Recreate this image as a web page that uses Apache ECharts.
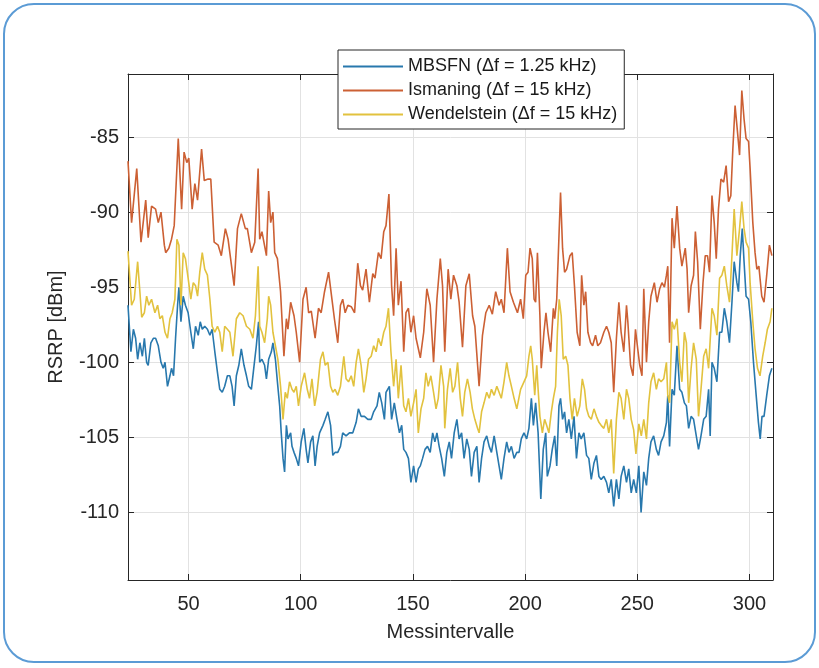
<!DOCTYPE html>
<html>
<head>
<meta charset="utf-8">
<script src="https://cdn.jsdelivr.net/npm/echarts@6/dist/echarts.min.js"></script>
<style>
  html, body { margin: 0; padding: 0; background: #fff; }
  #chart { width: 819px; height: 668px; }
</style>
</head>
<body>
<div id="chart"></div>
<script>
// Messintervall (x) and RSRP in dBm (y)
const ismaningX = [
  23, 24.6, 26.9, 28.8, 30.9, 32.0, 33.5, 35.3, 36.5, 37.7, 39.2, 39.8, 41.2, 42.4, 43.6, 45.4, 46.9, 48.0, 49.2, 50.1,
  51.6, 52.8, 54.0, 55.8, 57.0, 58.7, 59.9, 61.4, 63.2, 64.6, 66.4, 67.6, 70.3, 71.8, 73.5, 75.3, 76.2, 78.0, 79.5, 81.0,
  81.7, 82.7, 84.7, 85.7, 86.6, 87.6, 88.4, 89.6, 91.0, 92.5, 93.6, 94.3, 95.5, 97.0, 98.0, 99.5, 101.0, 102.4, 103.5, 104.7,
  106.4, 107.9, 109.1, 110.6, 112.4, 113.9, 115.0, 116.5, 117.7, 118.7, 119.8, 121.0, 122.5, 124.0, 125.4, 126.6, 127.6, 129.1, 130.6, 132.1,
  133.1, 134.6, 135.8, 137.0, 138.0,
  139.3, 140.5, 141.4, 142.5, 143.5, 144.7, 145.9, 146.9, 148.0, 149.1, 150.3, 151.4, 153.3, 154.8, 156.2, 157.7, 159.2, 160.7, 162.2, 163.2,
  164.2, 165.7, 166.9, 168.1, 169.6, 170.6, 172.1, 173.6, 175.1, 176.6, 177.6, 179.5, 181.0, 182.5, 184.0, 185.4, 186.9, 188.4, 189.4, 190.6,
  192.1, 193.3, 194.8,
  196.6, 198.0, 199.2, 200.3, 201.3, 202.2, 203.2, 204.0, 204.7, 205.5, 206.6, 207.2, 208.4, 209.3, 210.2, 211.4, 212.6, 213.2, 214.1, 215.1,
  215.8, 216.7, 217.6, 218.5, 220.0, 221.0, 222.0, 223.2, 224.4, 225.2, 226.2, 227.0, 228.0, 229.2, 230.1, 231.4, 232.4, 233.6, 235.1, 236.3,
  237.3, 238.4, 239.5, 240.7, 241.8, 242.8, 244.0, 245.2, 245.8, 247.0, 248.1, 249.2, 250.2, 251.1, 252.1, 252.9,
  254.1, 255.1, 256.1, 257.6, 258.8, 260.0, 261.0, 262.1, 263.0, 263.6, 264.4, 265.5, 266.5, 267.7, 268.9, 269.9, 271.4, 272.2, 272.9, 274.0,
  275.1, 275.9, 276.9, 278.1, 279.3, 280.3, 281.3, 282.2, 283.3, 284.3, 285.2, 286.2, 287.3, 288.5, 289.6, 290.7, 291.7, 292.6, 293.6, 294.7,
  295.6, 296.6, 297.6, 298.5, 299.6, 300.3, 301.5, 302.5, 303.3, 304.2, 305.5, 306.5, 307.7, 308.9, 310.0
];
const ismaningY = [
  -86.6, -90.7, -87.1, -92.0, -89.2, -91.7, -89.6, -89.8, -90.7, -90.0, -92.2, -92.7, -92.4, -91.8, -90.9, -85.1, -89.8, -86.0, -86.7, -86.4,
  -89.8, -88.1, -89.2, -85.8, -87.9, -87.8, -87.8, -92.0, -92.2, -92.9, -91.1, -91.8, -94.9, -91.1, -90.1, -91.1, -91.1, -92.7, -92.0, -87.1,
  -91.8, -91.3, -92.9, -88.6, -90.7, -90.0, -92.7, -93.1, -95.3, -99.6, -97.1, -97.8, -96.0, -96.9, -98.0, -100.0, -95.8, -95.0, -96.7, -96.6,
  -98.4, -96.4, -96.7, -95.3, -94.0, -95.8, -97.1, -98.7, -96.2, -95.8, -96.7, -96.2, -96.3, -96.7, -93.4, -94.9, -95.2, -93.8, -96.0, -94.1,
  -94.4, -92.7, -93.1, -91.3, -90.9,
  -88.8, -94.9, -96.9, -92.4, -96.2, -94.6, -99.3, -96.7, -96.4, -98.0, -96.9, -98.4, -99.7, -98.0, -95.1, -96.2, -100.0, -95.8, -93.1, -94.9,
  -99.3, -93.8, -95.8, -94.2, -94.9, -96.0, -99.0, -94.9, -94.1, -96.9, -97.6, -101.6, -98.2, -96.7, -96.2, -96.8, -95.3, -96.2, -95.8, -96.7,
  -92.4, -95.3, -96.0,
  -96.7, -95.8, -97.1, -94.2, -94.0, -92.4, -93.1, -95.8, -96.0, -92.7, -96.9, -100.4, -98.0, -96.7, -98.0, -99.3, -96.4, -97.1, -95.8, -91.6,
  -88.7, -92.4, -94.0, -93.8, -92.9, -92.7, -94.9, -98.0, -98.9, -94.2, -96.2, -95.3, -98.0, -98.7, -98.9, -98.2, -98.9, -98.7, -98.0, -97.6,
  -98.0, -98.7, -102.0, -98.4, -96.0, -98.0, -99.3, -96.2, -97.3, -100.2, -100.9, -97.8, -99.1, -100.2, -100.9, -95.1,
  -100.0, -97.3, -95.6, -94.7, -96.0, -95.1, -94.7, -95.0, -94.2, -93.6, -98.7, -90.4, -92.4, -89.6, -92.4, -93.6, -92.4, -93.8, -96.7, -94.9,
  -94.2, -91.3, -93.3, -97.8, -94.7, -92.9, -92.9, -94.0, -88.9, -90.7, -93.1, -89.8, -87.8, -88.0, -86.9, -89.3, -88.9, -85.8, -82.9, -84.7,
  -86.2, -81.9, -83.8, -85.1, -85.3, -87.1, -90.7, -92.7, -93.8, -93.6, -95.6, -96.0, -94.2, -92.2, -92.9
];

const wendelX = [
  23, 24.6, 25.8, 27.3, 28.3, 29.1, 30.3, 31.3, 32.3, 33.5, 35.0, 36.2, 37.2, 38.3, 39.5, 40.6, 41.7, 42.7, 43.9, 44.8,
  45.7, 46.6, 47.6, 48.6, 49.8, 51.0, 52.1, 53.1, 54.0, 55.0, 56.1, 57.2, 58.4, 59.5, 60.5, 61.7, 62.9, 63.9, 65.0, 66.1,
  67.3, 68.4, 69.8, 71.3, 72.8, 74.3, 75.8, 77.3, 78.7, 79.8, 81.0,
  81.7, 82.7, 83.9, 85.1, 85.7, 86.6, 87.6, 88.7, 89.8, 91.0, 92.1, 93.1, 94.0, 95.0, 96.1, 97.0, 98.0, 99.0, 100.2, 101.7,
  102.9, 103.9, 105.0, 106.2, 107.3, 108.8, 109.9, 110.9, 112.1, 113.3, 114.3, 115.3, 116.5, 117.7, 119.2, 120.2, 121.3, 122.5, 123.6, 124.7,
  125.7, 126.9, 128.1, 129.1, 130.2, 131.4, 132.5, 133.6, 134.6, 135.8, 137.0, 138.0,
  139.1, 140.2, 141.4, 142.5, 143.5, 144.7, 145.9, 146.9, 148.0, 149.1, 150.3, 151.4, 152.4, 153.6, 154.8, 155.8, 156.8, 158.0, 159.2, 160.3,
  161.3, 162.5, 163.7, 164.2, 165.4, 166.6, 167.7, 168.7, 169.9, 171.1, 172.1, 173.1, 174.3, 175.5, 176.5, 177.6, 178.8, 179.5, 180.6, 181.7,
  182.9, 184.0, 185.0, 186.2, 187.4, 188.4, 189.4, 190.6, 191.8, 192.8, 193.9, 195.1, 196.3,
  198.0, 199.5, 200.7, 201.7, 202.5, 203.2, 204.3, 205.2, 205.8, 206.6, 207.7, 208.7, 209.6, 210.6, 211.7, 212.6, 213.6, 214.4, 215.2, 216.1,
  217.0, 218.1, 219.1, 220.0, 221.0, 222.0, 223.2, 224.4, 225.5, 226.5, 227.4, 228.4, 229.5, 230.7, 231.8, 232.9, 233.9, 235.1, 236.3, 237.3,
  238.4, 239.5, 240.7, 241.8, 242.8, 244.0, 245.2, 246.2, 247.3, 248.4, 249.4, 250.7, 251.8, 252.9,
  254.1, 255.1, 256.1, 257.3, 258.5, 259.5, 260.6, 261.8, 263.0, 263.6, 264.4, 265.5, 266.5, 267.7, 268.9, 269.9, 271.0, 271.9, 272.9, 274.0,
  275.1, 276.3, 277.3, 278.4, 279.6, 280.7, 281.8, 283.3, 284.3, 285.5, 286.7, 287.7, 288.8, 289.9, 291.1, 292.2, 293.2, 294.4, 295.6, 296.6,
  297.6, 298.5, 299.6, 300.3, 301.5, 302.5, 303.6, 304.7, 305.9, 307.0, 308.0, 309.2, 310.0
];
const wendelY = [
  -92.6, -96.2, -95.8, -93.3, -95.3, -97.0, -96.7, -95.6, -96.2, -95.8, -96.7, -96.2, -97.1, -96.9, -98.0, -98.4, -97.1, -96.7, -95.8, -91.8,
  -92.2, -96.2, -92.7, -93.1, -94.4, -95.8, -94.7, -94.9, -95.6, -94.0, -92.7, -93.8, -94.2, -95.8, -97.6, -98.0, -97.6, -98.0, -99.3, -97.6,
  -97.8, -98.0, -99.6, -97.1, -96.7, -96.9, -97.6, -97.8, -98.4, -96.9, -93.6,
  -97.6, -98.0, -98.7, -97.1, -95.6, -96.2, -98.0, -98.9, -99.8, -101.6, -103.8, -102.0, -102.4, -101.3, -101.8, -102.0, -101.6, -102.9, -101.6, -100.7,
  -101.8, -102.4, -101.1, -102.9, -102.0, -99.8, -99.3, -100.2, -100.0, -101.6, -102.0, -101.8, -102.2, -101.6, -99.6, -101.1, -101.3, -100.9, -101.6, -100.0,
  -99.1, -100.2, -102.0, -101.1, -99.8, -99.6, -98.9, -99.3, -98.4, -98.9, -98.0, -97.6,
  -96.4, -99.3, -101.6, -99.8, -102.4, -100.2, -102.9, -103.3, -102.4, -103.6, -102.7, -101.8, -104.7, -103.1, -102.4, -100.7, -101.6, -100.9, -102.0, -103.1,
  -102.4, -100.2, -101.6, -104.4, -101.8, -100.4, -102.0, -101.6, -100.0, -102.4, -103.6, -102.0, -101.1, -102.0, -103.1, -103.8, -104.4, -104.7, -103.3, -102.7,
  -102.0, -102.4, -101.8, -102.2, -101.6, -102.0, -102.4, -101.3, -100.0, -100.9, -101.6, -102.4, -103.1,
  -101.8, -101.3, -100.9, -99.6, -98.9, -99.8, -102.2, -100.2, -101.8, -103.6, -104.7, -103.8, -104.2, -104.7, -103.3, -102.4, -101.6, -98.0, -95.8, -96.9,
  -99.8, -99.6, -100.2, -102.4, -103.8, -102.4, -103.6, -102.9, -101.1, -101.8, -103.1, -103.6, -103.8, -103.1, -103.6, -104.0, -104.2, -104.4, -103.8, -104.7,
  -103.8, -107.4, -103.8, -102.0, -102.4, -103.8, -101.8, -102.4, -103.8, -104.5, -106.1, -104.1, -104.9, -103.8,
  -105.1, -102.7, -101.3, -100.7, -101.8, -101.1, -101.3, -101.1, -100.0, -102.2, -102.7, -97.3, -97.8, -97.1, -100.0, -101.3, -98.0, -98.7, -102.7, -100.4,
  -98.7, -99.8, -103.6, -101.8, -99.6, -99.1, -100.4, -96.4, -96.9, -98.2, -94.4, -94.2, -93.6, -94.9, -96.0, -92.9, -89.8, -92.9, -91.1, -89.3,
  -91.1, -92.0, -92.4, -94.7, -97.3, -99.1, -100.4, -100.9, -99.6, -98.7, -97.8, -97.3, -96.4
];

const mbsfnX = [
  23, 24.3, 25.4, 26.4, 27.3, 28.3, 29.4, 30.3, 31.3, 32.0, 33.2, 34.3, 35.3, 36.5, 37.7, 38.7, 39.5, 40.6, 41.7, 42.4,
  43.3, 44.2, 45.1, 45.7, 46.6, 47.6, 48.6, 49.8, 51.0, 52.1, 53.1, 54.3, 55.2, 56.1, 57.2, 58.4, 59.5, 60.5, 61.7, 62.9,
  63.9, 65.0, 66.1, 67.3, 68.4, 69.4, 70.3, 71.3, 72.4, 73.5, 74.7, 75.8, 76.8, 78.0, 79.2, 80.2, 81.2,
  81.7, 82.7, 83.9, 84.7, 85.7, 86.9, 87.6, 88.7, 89.6, 90.6, 91.3, 92.1, 92.8, 93.6, 94.3, 95.5, 96.1, 97.0, 98.0, 99.0,
  100.2, 101.4, 102.4, 103.2, 104.4, 105.4, 106.4, 107.3, 108.4, 109.9, 110.9, 112.1, 113.3, 114.3, 115.3, 116.5, 117.7, 118.7, 120.2, 121.7,
  123.2, 124.7, 125.7, 126.9, 128.4, 129.9, 131.4, 132.5, 134.0, 135.0, 136.1, 137.3, 138.0,
  139.5, 140.5, 141.7, 142.9, 144.0, 145.0, 145.9, 146.9, 148.0, 149.1, 150.3, 151.4, 152.4, 153.3, 154.3, 155.4, 156.5, 157.7, 158.8, 159.8,
  160.7, 161.7, 162.8, 164.0, 165.1, 166.2, 167.2, 168.4, 169.6, 170.6, 171.7, 172.8, 174.0, 175.1, 176.1, 177.3, 178.5, 179.5, 180.6, 181.7,
  182.9, 184.0, 185.0, 186.2, 187.4, 188.4, 189.4, 190.6, 191.8, 192.8, 193.9, 195.1, 196.3,
  197.3, 198.3, 199.5, 200.7, 201.7, 202.8, 203.7, 204.7, 205.8, 207.0, 208.1, 209.2, 209.9, 211.1, 212.1, 213.2, 214.1, 215.1, 215.8, 216.7,
  217.6, 218.5, 219.5, 220.6, 221.8, 222.9, 224.0, 225.0, 226.2, 227.4, 228.4, 229.5, 230.7, 231.8, 232.9, 233.9, 235.1, 236.3, 237.3, 238.4,
  239.5, 240.7, 241.8, 242.8, 244.0, 245.2, 246.2, 247.3, 248.4, 249.6, 250.7, 251.7, 252.9,
  254.1, 255.1, 256.1, 257.3, 258.5, 259.5, 260.6, 261.8, 263.0, 263.6, 264.4, 265.5, 266.5, 267.7, 268.9, 269.9, 271.0, 271.9, 272.9, 274.0,
  275.1, 276.3, 277.3, 278.4, 279.6, 280.7, 281.8, 282.5, 283.3, 284.3, 285.5, 286.7, 287.7, 288.8, 289.9, 291.1, 292.2, 293.2, 294.4, 295.1,
  295.9, 296.8, 297.6, 298.5, 299.6, 300.6, 301.8, 303.0, 304.0, 304.8, 305.6, 306.5, 307.7, 308.9, 310.0
];
const mbsfnY = [
  -96.2, -99.3, -97.8, -98.4, -99.8, -98.7, -99.6, -98.4, -100.0, -100.2, -98.7, -98.4, -98.4, -98.9, -100.0, -100.4, -100.0, -101.6, -100.9, -100.4,
  -100.9, -98.4, -96.2, -95.0, -97.3, -95.6, -96.2, -96.7, -98.0, -99.1, -97.6, -98.2, -97.3, -97.8, -97.6, -97.8, -98.2, -97.8, -99.3, -100.7,
  -101.8, -102.0, -101.6, -100.9, -100.9, -101.6, -102.9, -100.9, -100.2, -99.1, -100.2, -100.9, -101.6, -101.8, -100.2, -98.9, -97.3,
  -100.0, -99.8, -100.2, -101.1, -99.8, -99.3, -98.7, -99.8, -101.3, -102.9, -104.7, -106.4, -107.3, -104.2, -105.1, -104.7, -105.6, -106.0, -106.4, -106.9,
  -105.3, -104.4, -105.8, -106.7, -105.3, -104.9, -106.9, -105.6, -104.7, -104.2, -103.8, -103.3, -104.2, -106.2, -106.0, -106.0, -105.6, -104.7, -104.9, -104.7,
  -104.7, -104.0, -103.1, -103.6, -103.6, -103.8, -103.8, -103.3, -102.9, -102.0, -102.7, -103.8, -102.0,
  -101.6, -103.8, -102.7, -103.8, -104.7, -104.2, -105.8, -106.0, -106.4, -108.0, -106.9, -108.0, -107.1, -106.9, -106.4, -105.8, -105.6, -106.0, -104.7, -105.3,
  -104.7, -105.6, -106.4, -107.6, -106.0, -105.3, -106.4, -104.7, -103.8, -105.1, -104.7, -106.4, -105.1, -105.8, -107.6, -106.0, -105.6, -108.0, -106.4, -105.3,
  -104.9, -105.6, -106.0, -104.9, -106.0, -106.9, -107.8, -106.4, -105.3, -106.0, -105.6, -106.4, -106.0,
  -106.0, -105.1, -104.7, -105.1, -104.4, -102.4, -104.2, -102.7, -104.7, -109.1, -105.8, -104.7, -107.6, -106.9, -105.8, -104.9, -106.9, -102.9, -102.4, -103.8,
  -103.3, -104.7, -103.8, -105.1, -103.6, -106.4, -104.7, -105.1, -104.7, -106.2, -106.4, -107.8, -106.7, -106.2, -107.6, -107.8, -107.6, -108.0, -108.7, -107.8,
  -109.6, -107.8, -109.1, -107.6, -106.9, -108.0, -107.1, -108.7, -107.8, -108.7, -106.9, -110.0, -107.3,
  -108.2, -106.4, -105.3, -104.9, -105.8, -106.2, -105.3, -104.9, -104.0, -102.2, -105.6, -101.8, -102.2, -98.9, -101.8, -102.0, -102.7, -102.9, -104.4, -103.6,
  -103.8, -104.9, -105.8, -104.9, -103.8, -103.6, -101.8, -104.9, -100.0, -100.4, -101.3, -98.0, -98.0, -96.4, -97.3, -98.7, -96.0, -93.3, -94.7, -95.3,
  -92.9, -91.1, -93.3, -95.6, -95.8, -97.3, -100.0, -102.2, -104.0, -105.1, -103.6, -103.6, -102.2, -100.9, -100.4
];

const xTicks = [50, 100, 150, 200, 250, 300];
const yTicks = [-110, -105, -100, -95, -90, -85];
const seriesNames = ['MBSFN (\u0394f = 1.25 kHz)', 'Ismaning (\u0394f = 15 kHz)', 'Wendelstein (\u0394f = 15 kHz)'];
const seriesColors = ['#2878ad', '#cc6034', '#e2c23e'];

function pairs(xs, ys) {
    return xs.map((x, i) => [x, ys[i]]);
}

const chart = echarts.init(document.getElementById('chart'), null, { renderer: 'canvas' });
const FONT = 'Liberation Sans, Arial, Helvetica, sans-serif';
const INK = '#262626';

// MATLAB style box: ticks on all four sides pointing inward
const boxAxis = {
    axisLine: { show: true, lineStyle: { color: INK, width: 1 } },
    axisTick: { show: true, inside: true, length: 6, lineStyle: { color: INK } },
};

const option = {
    animation: false,
    backgroundColor: '#fff',
    grid: { left: 128, right: 46, top: 74, bottom: 88, containLabel: false },
    graphic: [{
        type: 'rect',
        shape: { x: 4, y: 4, width: 811, height: 658, r: 30 },
        style: { fill: 'none', stroke: '#5b9bd5', lineWidth: 2 },
        z: 100
    }],
    legend: {
        orient: 'vertical',
        left: 338,
        top: 50,
        padding: [7, 7, 5, 5],
        itemGap: 5,
        itemWidth: 60,
        itemHeight: 2,
        icon: 'rect',
        backgroundColor: '#fff',
        borderColor: INK,
        borderWidth: 1,
        textStyle: { fontSize: 18, lineHeight: 19, color: '#1a1a1a', fontFamily: FONT },
        data: seriesNames
    },
    xAxis: [
        Object.assign({
            type: 'value', min: 23, max: 310.5, position: 'bottom',
            name: 'Messintervalle', nameLocation: 'middle', nameGap: 42,
            nameTextStyle: { fontSize: 20, color: INK, fontFamily: FONT },
            axisLabel: { customValues: xTicks, fontSize: 20, color: INK, fontFamily: FONT, margin: 14 },
            splitLine: { show: true, lineStyle: { color: '#e2e2e2', width: 1 } },
        }, boxAxis, { axisTick: Object.assign({}, boxAxis.axisTick, { customValues: xTicks }) }),
        Object.assign({
            type: 'value', min: 23, max: 310.5, position: 'top',
            axisLabel: { show: false },
            splitLine: { show: false },
        }, boxAxis, { axisTick: Object.assign({}, boxAxis.axisTick, { customValues: xTicks }) })
    ],
    yAxis: [
        Object.assign({
            type: 'value', min: -114.5, max: -80.8, position: 'left',
            name: 'RSRP [dBm]', nameLocation: 'middle', nameGap: 62,
            nameTextStyle: { fontSize: 20, color: INK, fontFamily: FONT },
            axisLabel: { customValues: yTicks, fontSize: 20, color: INK, fontFamily: FONT, margin: 9 },
            splitLine: { show: true, lineStyle: { color: '#e2e2e2', width: 1 } },
        }, boxAxis, { axisTick: Object.assign({}, boxAxis.axisTick, { customValues: yTicks }) }),
        Object.assign({
            type: 'value', min: -114.5, max: -80.8, position: 'right',
            axisLabel: { show: false },
            splitLine: { show: false },
        }, boxAxis, { axisTick: Object.assign({}, boxAxis.axisTick, { customValues: yTicks }) })
    ],
    series: [
        { name: seriesNames[0], data: pairs(mbsfnX, mbsfnY), color: seriesColors[0] },
        { name: seriesNames[1], data: pairs(ismaningX, ismaningY), color: seriesColors[1] },
        { name: seriesNames[2], data: pairs(wendelX, wendelY), color: seriesColors[2] }
    ].map(s => Object.assign({
        type: 'line',
        xAxisIndex: 0,
        yAxisIndex: 0,
        showSymbol: false,
        symbol: 'none',
        lineStyle: { width: 1.6, color: s.color },
        itemStyle: { color: s.color },
        z: 2
    }, s))
};

chart.setOption(option);
</script>
</body>
</html>
